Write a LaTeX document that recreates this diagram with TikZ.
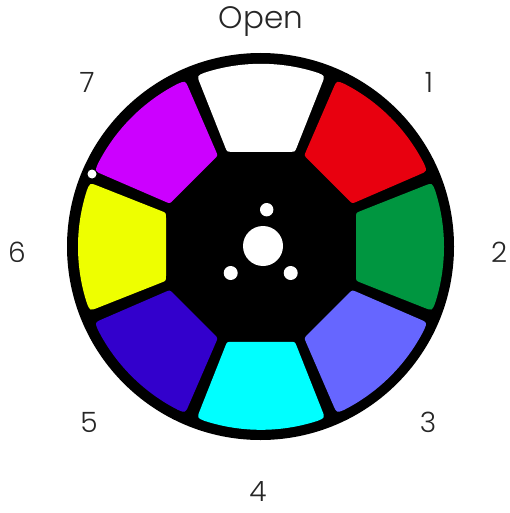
\documentclass[tikz,border=0pt]{standalone}
\usepackage{fontspec}
\setmainfont{Poppins}[UprightFont=* Light]
\definecolor{cRed}{HTML}{E8000F}
\definecolor{cGreen}{HTML}{009640}
\definecolor{cPeri}{HTML}{6666FF}
\definecolor{cCyan}{HTML}{00FFFF}
\definecolor{cBlue}{HTML}{3300CC}
\definecolor{cYellow}{HTML}{EEFF00}
\definecolor{cPurple}{HTML}{CC00FF}
\tikzset{lab/.style={font=\fontsize{28}{32}\selectfont, text=black!85, inner sep=0pt},
 title/.style={font=\fontsize{31}{36}\selectfont, text=black!85, inner sep=0pt},
 hole/.style={fill=white}}
\newcommand{\wheelseg}[2]{%
 \fill[#2, rotate=#1] (72:183) arc[start angle=72,end angle=108,radius=183]
  .. controls (-64,171) .. (-61.1,163.6) -- (-35.8,99.65)
  .. controls (-34,95) .. (-29,95) -- (29,95)
  .. controls (34,95) .. (35.8,99.65) -- (61.1,163.6)
  .. controls (64,171) .. cycle;}
\begin{document}
\begin{tikzpicture}[x=1pt,y=1pt]
\useasboundingbox (0,-513) rectangle (510,0);
\fill[white] (0,-513) rectangle (510,0);
\fill[black] (260.5,-246.5) circle[radius=193.5];
\begin{scope}[shift={(261,-246.8)}]
\wheelseg{0}{white}
\wheelseg{-45}{cRed}
\wheelseg{-90}{cGreen}
\wheelseg{-135}{cPeri}
\wheelseg{180}{cCyan}
\wheelseg{135}{cBlue}
\wheelseg{90}{cYellow}
\wheelseg{45}{cPurple}
\end{scope}
\fill[hole] (263,-246) circle[radius=20];
\fill[hole] (266.7,-209.7) circle[radius=6.7];
\fill[hole] (230.7,-273) circle[radius=7];
\fill[hole] (290.7,-273) circle[radius=7];
\fill[hole] (92,-174) circle[radius=4.5];
\node[title] (open) at (261,-22) {Open};
\node[lab] (n1) at (429,-82) {1};
\node[lab] (n2) at (499,-252) {2};
\node[lab] (n3) at (428,-422) {3};
\node[lab] (n4) at (258,-492) {4};
\node[lab] (n5) at (89,-422) {5};
\node[lab] (n6) at (17,-252) {6};
\node[lab] (n7) at (87,-82) {7};
\end{tikzpicture}
\end{document}
